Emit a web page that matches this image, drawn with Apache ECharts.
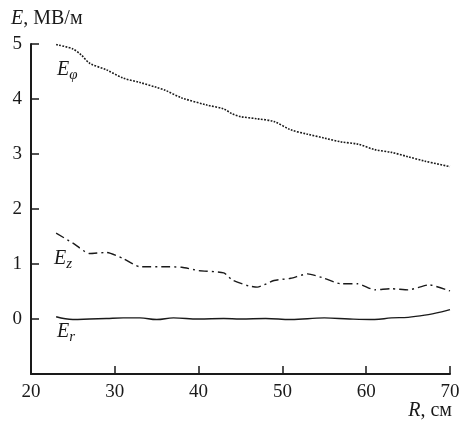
<!DOCTYPE html>
<html>
<head>
<meta charset="utf-8">
<script src="https://cdn.jsdelivr.net/npm/echarts@6/dist/echarts.min.js"></script>
<style>
  html, body { margin: 0; padding: 0; background: #fff; }
  #chart { width: 464px; height: 423px; }
</style>
</head>
<body>
<div id="chart"></div>
<script>
// ---- data (R in cm, E in MV/m) ----
var phiR = [23, 25, 26, 27, 29, 31, 33, 35, 36, 38, 41, 43, 44, 45, 47, 49, 51, 53, 55, 57, 59, 61, 63, 65, 67, 70];
var phiE = [4.99, 4.91, 4.80, 4.65, 4.53, 4.38, 4.30, 4.21, 4.16, 4.02, 3.89, 3.82, 3.73, 3.68, 3.64, 3.59, 3.44, 3.36, 3.29, 3.22, 3.18, 3.08, 3.03, 2.95, 2.87, 2.77];

var zR = [23, 25, 27, 29, 31, 33, 36, 38, 40, 43, 44, 46, 47, 49, 51, 53, 55, 57, 59, 61, 63, 65, 67.5, 70];
var zE = [1.56, 1.38, 1.19, 1.21, 1.10, 0.95, 0.95, 0.94, 0.88, 0.84, 0.71, 0.60, 0.58, 0.70, 0.74, 0.82, 0.74, 0.64, 0.64, 0.53, 0.55, 0.53, 0.62, 0.51];

var rR = [23, 25, 27, 29, 31, 33, 35, 37, 40, 43, 45, 48, 51, 55, 58, 61, 63, 65, 67, 69, 70];
var rE = [0.04, -0.01, 0.0, 0.01, 0.02, 0.02, -0.01, 0.02, 0.0, 0.01, 0.0, 0.01, -0.01, 0.02, 0.0, -0.01, 0.02, 0.03, 0.07, 0.13, 0.17];

var xTicks = [20, 30, 40, 50, 60, 70];
var yTicks = [0, 1, 2, 3, 4, 5];

var serif = "'Liberation Serif', 'Times New Roman', serif";
var ink = '#1a1a1a';

function pairs(xs, ys) {
  return xs.map(function (x, i) { return [x, ys[i]]; });
}

// label with italic letter and subscript
function subLabel(left, top, letter, sub) {
  return {
    type: 'text',
    left: left,
    top: top,
    style: {
      text: '{e|' + letter + '}{s|' + sub + '}',
      rich: {
        e: { fontFamily: serif, fontStyle: 'italic', fontSize: 20, fill: ink },
        s: { fontFamily: serif, fontStyle: 'italic', fontSize: 15, fill: ink, padding: [10, 0, 0, 0] }
      }
    }
  };
}

var chart = echarts.init(document.getElementById('chart'));

var option = {
  animation: false,
  backgroundColor: '#fff',
  grid: { left: 31, right: 14, top: 44, bottom: 49 },
  xAxis: {
    type: 'value',
    min: 20,
    max: 70,
    interval: 10,
    axisLine: { show: true, onZero: false, lineStyle: { color: ink, width: 2 } },
    axisTick: { show: true, inside: true, length: 8, lineStyle: { color: ink, width: 1.5 } },
    axisLabel: {
      margin: 9,
      fontFamily: serif,
      fontSize: 19,
      color: ink,
      formatter: function (v) { return xTicks.indexOf(v) >= 0 ? String(v) : ''; }
    },
    splitLine: { show: false }
  },
  yAxis: {
    type: 'value',
    min: -1,
    max: 5,
    interval: 1,
    axisLine: { show: true, onZero: false, lineStyle: { color: ink, width: 2 } },
    axisTick: { show: true, inside: true, length: 8, lineStyle: { color: ink, width: 1.5 } },
    axisLabel: {
      margin: 9,
      fontFamily: serif,
      fontSize: 19,
      color: ink,
      formatter: function (v) { return yTicks.indexOf(v) >= 0 ? String(v) : ''; }
    },
    splitLine: { show: false }
  },
  series: [
    {
      name: 'Ephi',
      type: 'line',
      data: pairs(phiR, phiE),
      smooth: 0.3,
      symbol: 'none',
      lineStyle: { color: ink, width: 1.6, type: [1.8, 1.4] }
    },
    {
      name: 'Ez',
      type: 'line',
      data: pairs(zR, zE),
      smooth: 0.2,
      symbol: 'none',
      lineStyle: { color: ink, width: 1.4, type: [9, 4, 2, 4] }
    },
    {
      name: 'Er',
      type: 'line',
      data: pairs(rR, rE),
      smooth: 0.4,
      symbol: 'none',
      lineStyle: { color: ink, width: 1.4 }
    }
  ],
  graphic: [
    {
      type: 'text',
      left: 11,
      top: 9,
      style: {
        text: '{i|E}{n|, МВ/м}',
        rich: {
          i: { fontFamily: serif, fontStyle: 'italic', fontSize: 20, fill: ink },
          n: { fontFamily: serif, fontSize: 20, fill: ink }
        }
      }
    },
    {
      type: 'text',
      right: 12,
      top: 401,
      style: {
        text: '{i|R}{n|, см}',
        rich: {
          i: { fontFamily: serif, fontStyle: 'italic', fontSize: 20, fill: ink },
          n: { fontFamily: serif, fontSize: 20, fill: ink }
        }
      }
    },
    subLabel(57, 60, 'E', 'φ'),
    subLabel(54, 249, 'E', 'z'),
    subLabel(57, 322, 'E', 'r')
  ]
};

chart.setOption(option);
</script>
</body>
</html>
